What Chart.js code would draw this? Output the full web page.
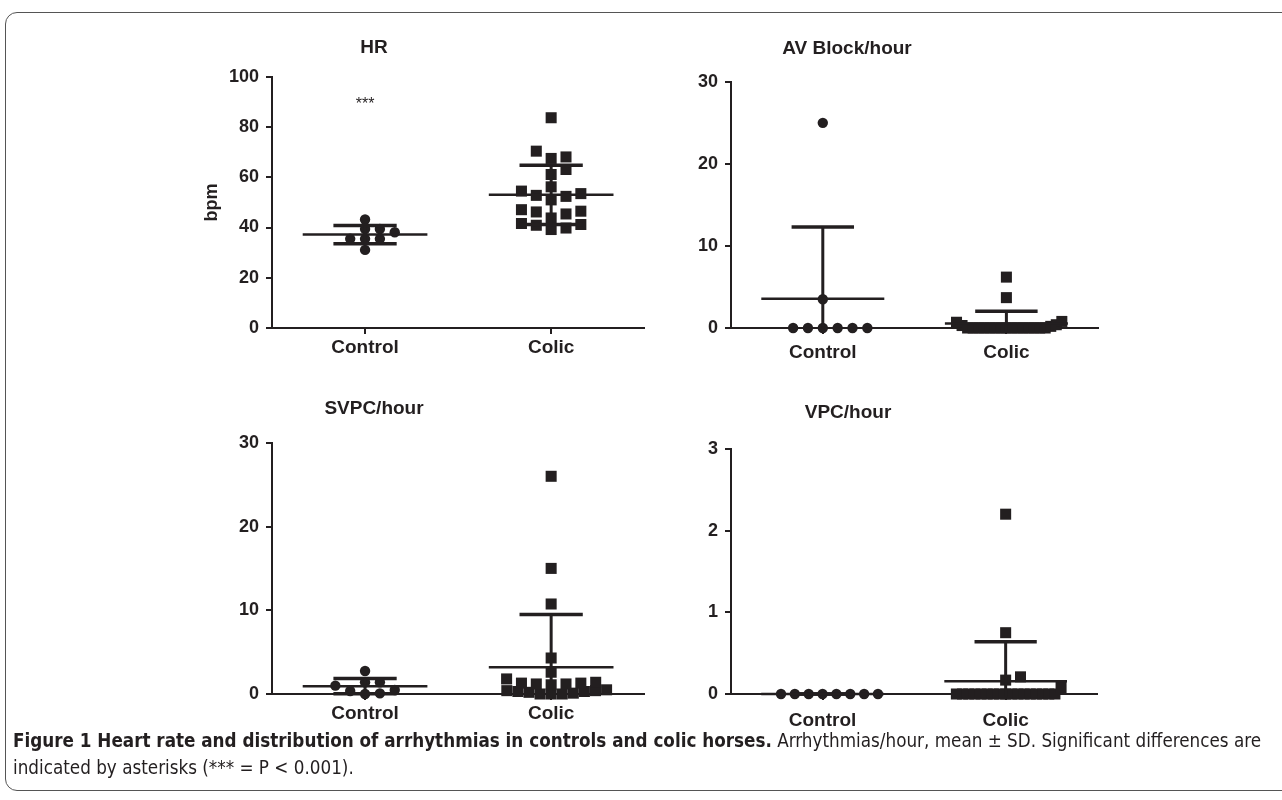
<!DOCTYPE html>
<html>
<head>
<meta charset="utf-8">
<script src="https://cdn.jsdelivr.net/npm/chart.js@4.4.0/dist/chart.umd.min.js"></script>
<style>
    body { margin: 0; width: 1282px; height: 800px; background: #fff; position: relative; overflow: hidden; }
    .frame { position: absolute; left: 5px; top: 12px; width: 1310px; height: 777px; border: 1px solid #555; border-radius: 12px; }
    canvas { position: absolute; }
    .caption { position: absolute; left: 13px; top: 727px; font-size: 18.7px; line-height: 27px; color: #231f20;
        font-family: "DejaVu Sans Condensed", "Liberation Sans", sans-serif; white-space: nowrap; }
</style>
</head>
<body>
<div class="frame"></div>
<canvas id="hrChart" width="552" height="348" style="left:100px;top:20px"></canvas>
<canvas id="avChart" width="514" height="348" style="left:592px;top:20px"></canvas>
<canvas id="svpcChart" width="552" height="354" style="left:100px;top:380px"></canvas>
<canvas id="vpcChart" width="510" height="354" style="left:595px;top:380px"></canvas>
<div class="caption"><b>Figure 1 Heart rate and distribution of arrhythmias in controls and colic horses.</b> Arrhythmias/hour, mean ± SD. Significant differences are<br>indicated by asterisks (*** = P &lt; 0.001).</div>

<script>
const groups = ['Control', 'Colic'];

const hrControl = [43.2, 39.4, 39.4, 38.1, 35.5, 35.5, 35.5, 31.1];
const hrColic = [83.7, 70.4, 68.1, 67.5, 63.1, 61.1, 56.2, 54.5, 53.5, 52.8, 52.4, 51.0,
    47.1, 46.5, 46.2, 45.4, 43.8, 41.6, 41.2, 40.9, 39.8, 39.2];

const avControl = [25, 3.5, 0, 0, 0, 0, 0, 0];
const avColic = [6.2, 3.7, 0.8, 0.7, 0.4, 0.3, 0.2, 0, 0, 0, 0, 0, 0, 0, 0, 0, 0, 0, 0, 0, 0, 0];

const svpcControl = [2.75, 1.4, 1.4, 1.0, 0.48, 0.36, 0.08, 0];
const svpcColic = [26, 15, 10.75, 4.3, 2.6, 1.8, 1.4, 1.3, 1.3, 1.2, 1.2, 1.1,
    0.5, 0.4, 0.4, 0.3, 0.3, 0.2, 0.1, 0, 0, 0];

const vpcControl = [0, 0, 0, 0, 0, 0, 0, 0];
const vpcColic = [2.2, 0.75, 0.21, 0.17, 0.08, 0, 0, 0, 0, 0, 0, 0, 0, 0, 0, 0, 0, 0, 0, 0, 0, 0];

const hrTicks = [0, 20, 40, 60, 80, 100];
const avTicks = [0, 10, 20, 30];
const svpcTicks = [0, 10, 20, 30];
const vpcTicks = [0, 1, 2, 3];

const sigLabel = '***';
const sigValue = 89;

const ink = '#231f20';
const family = '"Liberation Sans", Arial, Helvetica, sans-serif';

function mean(a) {
    return a.reduce((s, v) => s + v, 0) / a.length;
}

function sd(a) {
    const m = mean(a);
    return Math.sqrt(a.reduce((s, v) => s + (v - m) * (v - m), 0) / (a.length - 1));
}

// GraphPad style rows: values close together share a row and are spread sideways
function swarm(values, center, chart) {
    const yScale = chart.scales.y;
    const xScale = chart.scales.x;
    const pxPerX = xScale.getPixelForValue(1) - xScale.getPixelForValue(0);
    const rowGap = 9, slot = 15, maxHalf = 56;
    const sorted = values.slice().sort((a, b) => a - b);
    const pts = [];
    let row = [];
    const flush = () => {
        const offs = row.map((v, k) => k === 0 ? 0 : (k % 2 ? (k + 1) / 2 : -k / 2));
        const maxOff = Math.max(...offs.map(Math.abs));
        let gap = slot;
        if (maxOff * gap > maxHalf) gap = maxHalf / maxOff;
        row.forEach((v, k) => pts.push({ x: center + offs[k] * gap / pxPerX, y: v }));
        row = [];
    };
    sorted.forEach(v => {
        if (row.length && yScale.getPixelForValue(row[0]) - yScale.getPixelForValue(v) >= rowGap) flush();
        row.push(v);
    });
    if (row.length) flush();
    return pts;
}

function lineSet(points, width) {
    return {
        type: 'line', data: points, borderColor: ink, borderWidth: width,
        pointRadius: 0, fill: false, clip: 3, tension: 0
    };
}

function summarySets(values, i) {
    const m = mean(values);
    const s = sd(values);
    return [
        lineSet([{ x: i - 0.335, y: m }, { x: i + 0.335, y: m }], 2.5),
        lineSet([{ x: i, y: m - s }, { x: i, y: m + s }], 3),
        lineSet([{ x: i - 0.17, y: m + s }, { x: i + 0.17, y: m + s }], 3.5),
        lineSet([{ x: i - 0.17, y: m - s }, { x: i + 0.17, y: m - s }], 3.5)
    ];
}

const starsPlugin = {
    id: 'stars',
    afterDraw(chart) {
        const ctx = chart.ctx;
        ctx.save();
        ctx.fillStyle = ink;
        ctx.font = '16px ' + family;
        ctx.textAlign = 'center';
        ctx.textBaseline = 'middle';
        ctx.fillText(sigLabel, chart.scales.x.getPixelForValue(0), chart.scales.y.getPixelForValue(sigValue));
        ctx.restore();
    }
};

function makePanel(id, title, yTicks, control, colic, g) {
    const axisFont = { size: 18, weight: 'bold', family: family };
    const groupFont = { size: 19, weight: 'bold', family: family };
    const gridOpts = { display: true, drawOnChartArea: false, drawTicks: true, tickLength: 6, color: ink, lineWidth: 2 };
    const chart = new Chart(document.getElementById(id), {
        type: 'scatter',
        data: {
            datasets: [
                ...summarySets(control, 0),
                ...summarySets(colic, 1),
                { data: [], pointStyle: 'circle', pointRadius: 5.2, backgroundColor: ink, borderWidth: 0, clip: false },
                { data: [], pointStyle: 'rect', pointRadius: 7.8, backgroundColor: ink, borderWidth: 0, clip: false }
            ]
        },
        options: {
            responsive: false,
            animation: false,
            layout: { padding: { right: 4 } },
            plugins: {
                legend: { display: false },
                tooltip: { enabled: false },
                title: {
                    display: true, text: title, color: ink,
                    font: { size: 19, weight: 'bold', family: family },
                    padding: { top: g.titleTop, bottom: g.titleBottom }
                }
            },
            scales: {
                x: {
                    type: 'linear', min: -0.5, max: 1.5,
                    afterBuildTicks: s => { s.ticks = groups.map((n, i) => ({ value: i })); },
                    afterFit: s => { s.height = 40; },
                    ticks: { callback: v => groups[v], color: ink, font: groupFont, padding: g.labelPad, maxRotation: 0, autoSkip: false },
                    grid: gridOpts,
                    border: { display: true, color: ink, width: 2 }
                },
                y: {
                    min: yTicks[0], max: yTicks[yTicks.length - 1],
                    afterBuildTicks: s => { s.ticks = yTicks.map(v => ({ value: v })); },
                    afterFit: s => { s.width = g.yWidth; },
                    ticks: { color: ink, font: axisFont, padding: 7 },
                    grid: gridOpts,
                    border: { display: true, color: ink, width: 2 },
                    title: g.yTitle
                        ? { display: true, text: g.yTitle, color: ink, font: axisFont, padding: { top: g.yTitlePad, bottom: 0 } }
                        : { display: false }
                }
            }
        },
        plugins: g.stars ? [starsPlugin] : []
    });
    chart.data.datasets[8].data = swarm(control, 0, chart);
    chart.data.datasets[9].data = swarm(colic, 1, chart);
    chart.update();
    return chart;
}

makePanel('hrChart', 'HR', hrTicks, hrControl, hrColic,
    { titleTop: 16, titleBottom: 18, labelPad: 2, yWidth: 172, yTitle: 'bpm', yTitlePad: 101, stars: true });
makePanel('avChart', 'AV Block/hour', avTicks, avControl, avColic,
    { titleTop: 17, titleBottom: 22, labelPad: 7, yWidth: 139 });
makePanel('svpcChart', 'SVPC/hour', svpcTicks, svpcControl, svpcColic,
    { titleTop: 17, titleBottom: 23, labelPad: 2, yWidth: 172 });
makePanel('vpcChart', 'VPC/hour', vpcTicks, vpcControl, vpcColic,
    { titleTop: 21, titleBottom: 25, labelPad: 9, yWidth: 136 });
</script>
</body>
</html>
